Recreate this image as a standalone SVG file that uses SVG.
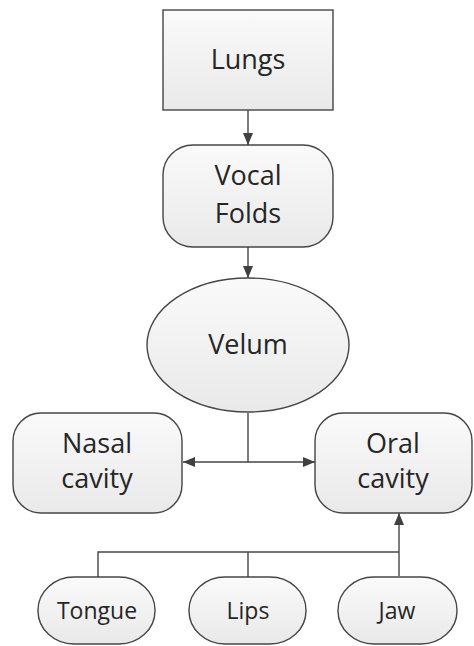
<svg xmlns="http://www.w3.org/2000/svg" width="474" height="646" viewBox="0 0 474 646">
  <defs>
    <linearGradient id="fillGrad" x1="0" y1="0" x2="0" y2="1">
      <stop offset="0" stop-color="#fafafa"/>
      <stop offset="1" stop-color="#e9e9e9"/>
    </linearGradient>
    <marker id="arrow" viewBox="0 0 12 10" refX="12" refY="5" markerWidth="12" markerHeight="10" orient="auto-start-reverse" markerUnits="userSpaceOnUse">
      <path d="M0,0 L12,5 L0,10 z" fill="#404040"/>
    </marker>
  </defs>
  <style>
    .shape { fill: url(#fillGrad); stroke: #454545; stroke-width: 1.4; }
    .label { font-family: "Open Sans", "Liberation Sans", sans-serif; font-size: 27px; fill: #262626; text-anchor: middle; }
    .small { font-size: 23px; }
    .wire { fill: none; stroke: #454545; stroke-width: 1.4; }
  </style>
  <rect width="474" height="646" fill="#ffffff"/>

  <g id="connectors">
    <line class="wire" x1="248" y1="110" x2="248" y2="145" marker-end="url(#arrow)"/>
    <line class="wire" x1="248" y1="247" x2="248" y2="278" marker-end="url(#arrow)"/>
    <line class="wire" x1="248" y1="413" x2="248" y2="462"/>
    <line class="wire" x1="183" y1="462" x2="315" y2="462" marker-start="url(#arrow)" marker-end="url(#arrow)"/>
    <polyline class="wire" points="98,577 98,552 399,552"/>
    <line class="wire" x1="248" y1="552" x2="248" y2="577"/>
    <line class="wire" x1="399" y1="576" x2="399" y2="513" marker-end="url(#arrow)"/>
  </g>

  <g id="lungs">
    <rect class="shape" x="163" y="10" width="170" height="100"/>
    <text class="label" x="248" y="69">Lungs</text>
  </g>

  <g id="vocal-folds">
    <rect class="shape" x="163" y="145" width="170" height="102" rx="30" ry="30"/>
    <text class="label" x="248" y="185">Vocal</text>
    <text class="label" x="248" y="223">Folds</text>
  </g>

  <g id="velum">
    <ellipse class="shape" cx="248" cy="345" rx="101" ry="67"/>
    <text class="label" x="248" y="354">Velum</text>
  </g>

  <g id="nasal-cavity">
    <rect class="shape" x="13" y="413" width="169" height="100" rx="28" ry="28"/>
    <text class="label" x="97" y="453">Nasal</text>
    <text class="label" x="97" y="488">cavity</text>
  </g>

  <g id="oral-cavity">
    <rect class="shape" x="315" y="413" width="157" height="100" rx="28" ry="28"/>
    <text class="label" x="393" y="453">Oral</text>
    <text class="label" x="393" y="488">cavity</text>
  </g>

  <g id="tongue">
    <rect class="shape" x="38" y="577" width="117" height="67" rx="36" ry="33"/>
    <text class="label small" x="97" y="619">Tongue</text>
  </g>

  <g id="lips">
    <rect class="shape" x="189" y="577" width="117" height="67" rx="36" ry="33"/>
    <text class="label small" x="248" y="619">Lips</text>
  </g>

  <g id="jaw">
    <rect class="shape" x="338" y="577" width="119" height="67" rx="36" ry="33"/>
    <text class="label small" x="397" y="619">Jaw</text>
  </g>
</svg>
